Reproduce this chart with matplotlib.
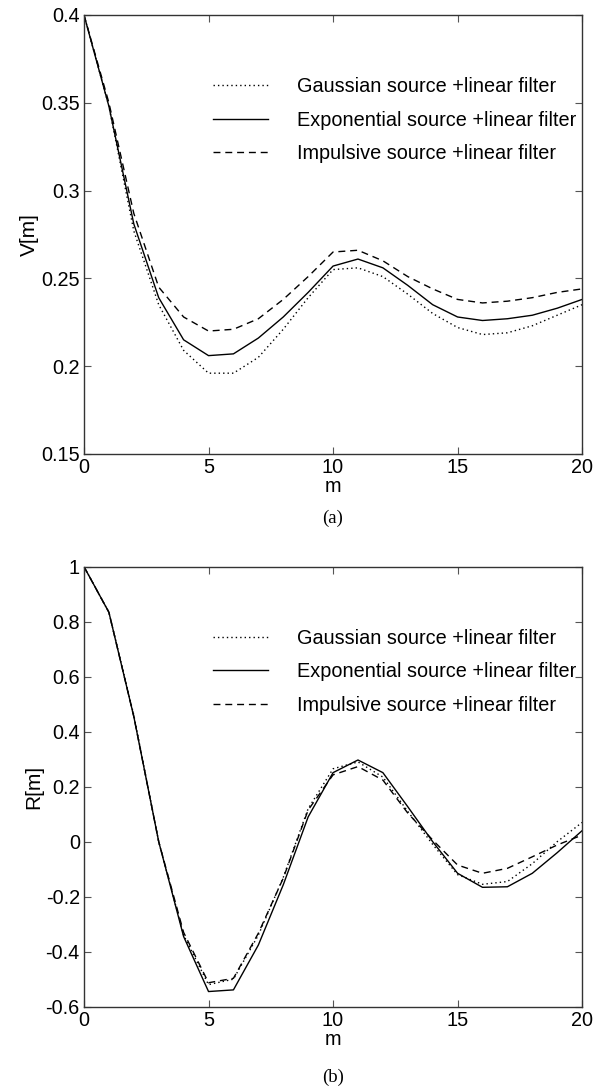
import numpy as np
import matplotlib.pyplot as plt

plt.rcParams['font.family'] = ['Liberation Sans', 'DejaVu Sans']

m = np.arange(21)

# panel (a): V[m]
v_gauss = [0.400, 0.348, 0.277, 0.235, 0.209, 0.196, 0.196, 0.205, 0.221, 0.239, 0.255,
           0.256, 0.251, 0.241, 0.230, 0.222, 0.218, 0.219, 0.223, 0.229, 0.235]
v_expo = [0.400, 0.348, 0.281, 0.239, 0.215, 0.206, 0.207, 0.216, 0.228, 0.242, 0.257,
          0.261, 0.256, 0.246, 0.235, 0.228, 0.226, 0.227, 0.229, 0.233, 0.238]
v_imp = [0.400, 0.350, 0.287, 0.245, 0.228, 0.220, 0.221, 0.227, 0.238, 0.251, 0.265,
         0.266, 0.260, 0.251, 0.244, 0.238, 0.236, 0.237, 0.239, 0.242, 0.244]

# panel (b): R[m]
r_gauss = [1.0, 0.834, 0.46, 0.0, -0.34, -0.52, -0.50, -0.34, -0.13, 0.12, 0.265,
           0.29, 0.235, 0.11, -0.01, -0.12, -0.155, -0.145, -0.08, 0.0, 0.07]
r_expo = [1.0, 0.834, 0.455, 0.0, -0.345, -0.545, -0.539, -0.376, -0.157, 0.09, 0.251,
          0.297, 0.251, 0.127, 0.0, -0.115, -0.166, -0.164, -0.115, -0.04, 0.04]
r_imp = [1.0, 0.834, 0.455, 0.0, -0.33, -0.513, -0.497, -0.333, -0.133, 0.115, 0.243,
         0.273, 0.224, 0.104, 0.006, -0.085, -0.115, -0.097, -0.055, -0.012, 0.024]

labels = ['Gaussian source +linear filter',
          'Exponential source +linear filter',
          'Impulsive source +linear filter']

x_ticks = [0, 5, 10, 15, 20]
v_ticks = [0.15, 0.2, 0.25, 0.3, 0.35, 0.4]
v_ticklabels = ['0.15', '0.2', '0.25', '0.3', '0.35', '0.4']
r_ticks = [-0.6, -0.4, -0.2, 0, 0.2, 0.4, 0.6, 0.8, 1]
r_ticklabels = ['-0.6', '-0.4', '-0.2', '0', '0.2', '0.4', '0.6', '0.8', '1']


def draw_panel(ax, ys, yticks, yticklabels, ylim, ylabel, caption, cap_y):
    styles = [(0, (1, 2.2)), '-', (0, (5, 3.5))]
    for y, ls, lab in zip(ys, styles, labels):
        ax.plot(m, y, color='black', linestyle=ls, linewidth=1.0, label=lab)
    ax.set_xlim(0, 20)
    ax.set_ylim(*ylim)
    ax.set_xticks(x_ticks)
    ax.set_yticks(yticks)
    ax.set_yticklabels(yticklabels)
    ax.tick_params(direction='in', top=True, right=True, labelsize=14.3,
                   length=5, width=0.8, colors='#555555', labelcolor='black', pad=3)
    for s in ax.spines.values():
        s.set_linewidth(1.0)
        s.set_color('#333333')
    ax.set_xlabel('m', fontsize=14.3, labelpad=0)
    ax.set_ylabel(ylabel, fontsize=15, labelpad=2)
    ax.legend(loc='upper left', bbox_to_anchor=(0.259, 0.858), frameon=False,
              fontsize=14.3, handlelength=2.75, handletextpad=1.5,
              labelspacing=0.72, borderpad=0, borderaxespad=0)
    ax.text(0.5, cap_y, caption, transform=ax.transAxes, ha='center', va='center',
            fontsize=13.5, family='Liberation Serif')


fig = plt.figure(figsize=(6.06, 10.91), dpi=100)
ax1 = fig.add_axes([0.1386, 0.5839, 0.822, 0.4024])
ax2 = fig.add_axes([0.1386, 0.0773, 0.822, 0.4033])

draw_panel(ax1, [v_gauss, v_expo, v_imp], v_ticks, v_ticklabels, (0.15, 0.4), 'V[m]', '(a)', -0.147)
draw_panel(ax2, [r_gauss, r_expo, r_imp], r_ticks, r_ticklabels, (-0.6, 1.0), 'R[m]', '(b)', -0.16)

fig.savefig('out.png', dpi=100)
